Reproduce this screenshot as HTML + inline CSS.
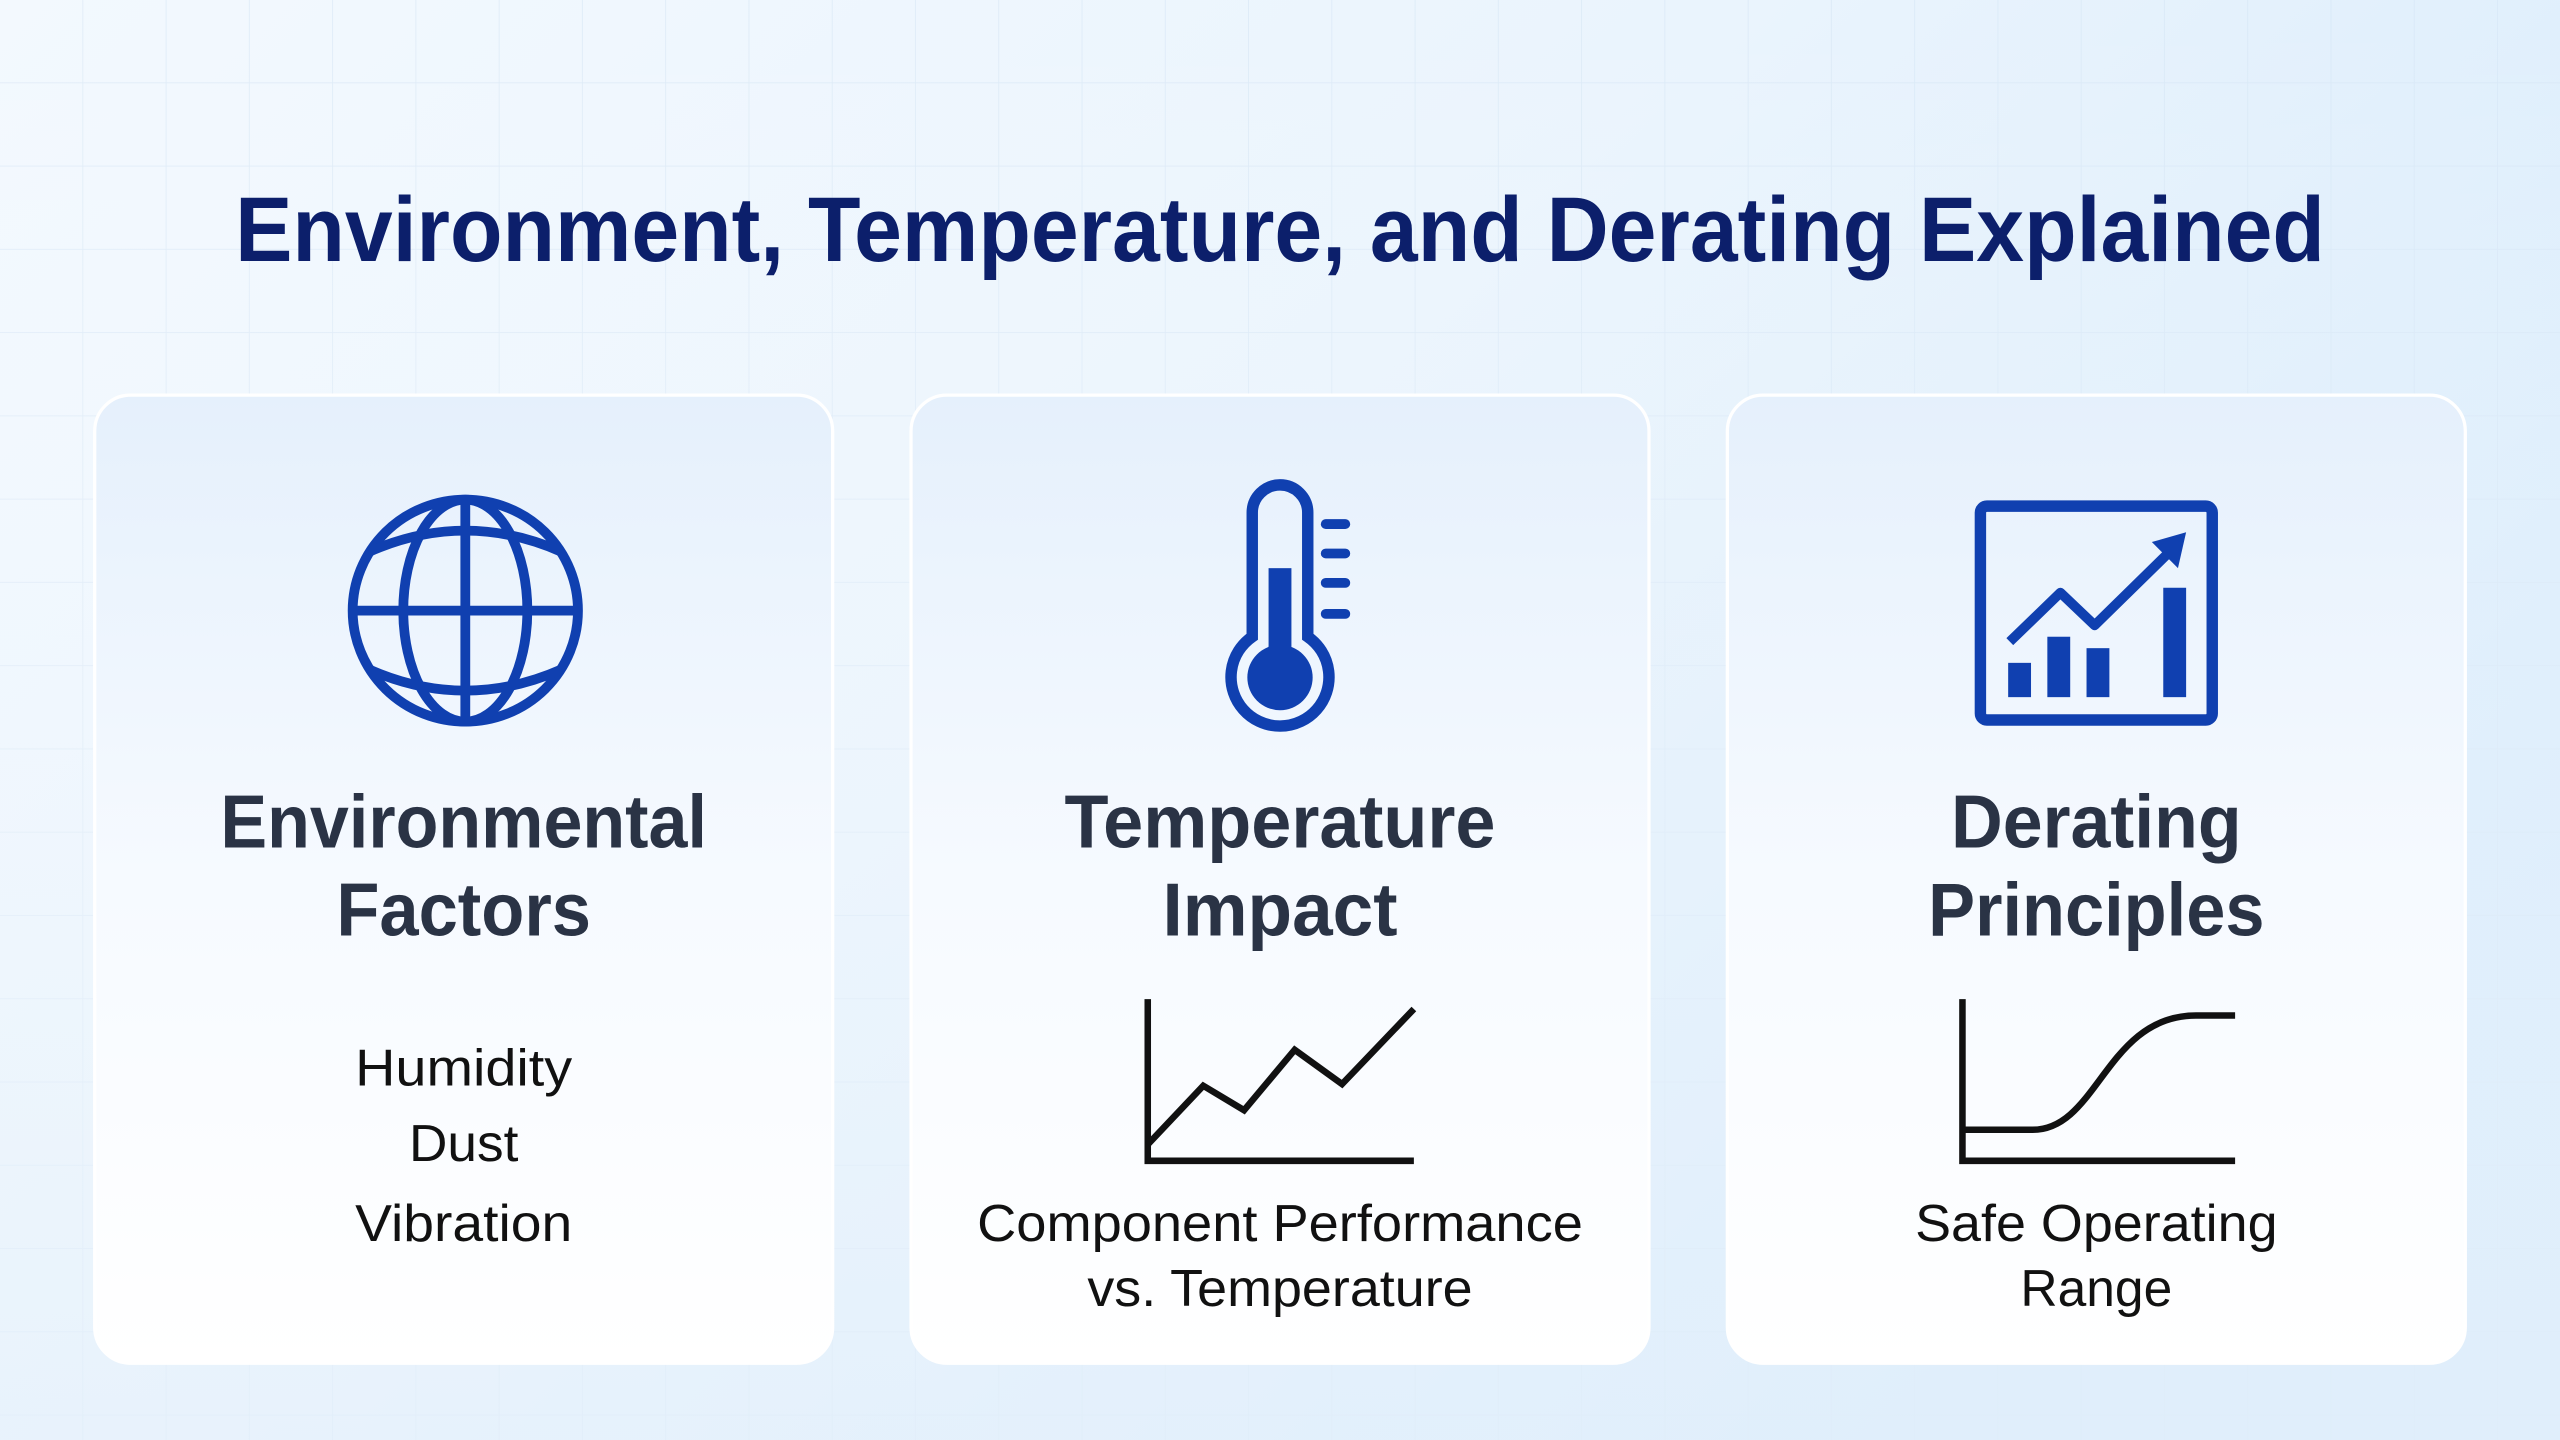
<!DOCTYPE html>
<html><head><meta charset="utf-8"><style>
html,body{margin:0;padding:0;width:2560px;height:1440px;overflow:hidden}
svg{display:block}
</style></head><body>
<svg width="2560" height="1440" viewBox="0 0 1568 882" xmlns="http://www.w3.org/2000/svg" font-family="Liberation Sans, sans-serif">
<defs>
<linearGradient id="bg" x1="0" y1="0" x2="1" y2="0.6">
<stop offset="0" stop-color="#f3f9fe"/><stop offset="0.5" stop-color="#eaf4fd"/><stop offset="1" stop-color="#d6eafb"/>
</linearGradient>
<linearGradient id="bgv" x1="0" y1="0" x2="0" y2="1">
<stop offset="0" stop-color="#ffffff" stop-opacity="0"/><stop offset="1" stop-color="#e6f1fb" stop-opacity="0.6"/>
</linearGradient>
<linearGradient id="card" x1="0" y1="0" x2="0" y2="1">
<stop offset="0" stop-color="#e5f0fc"/><stop offset="0.5" stop-color="#f6faff"/><stop offset="1" stop-color="#ffffff"/>
</linearGradient>
<pattern id="grid" width="51" height="51" patternUnits="userSpaceOnUse">
<path d="M51 0V51M0 51H51" stroke="#d2e3f3" stroke-width="1" fill="none" opacity="0.6"/>
</pattern>
</defs>
<rect width="1568" height="882" fill="url(#bg)"/>
<rect width="1568" height="882" fill="url(#grid)"/>
<rect width="1568" height="882" fill="url(#bgv)"/>
<text x="784" y="160" text-anchor="middle" font-size="56" font-weight="bold" fill="#0c1f6b" textLength="1280" lengthAdjust="spacingAndGlyphs">Environment, Temperature, and Derating Explained</text>

<g stroke="#ffffff" stroke-width="2">
<rect x="58" y="242" width="452" height="593" rx="22" fill="url(#card)"/>
<rect x="558" y="242" width="452" height="593" rx="22" fill="url(#card)"/>
<rect x="1058" y="242" width="452" height="593" rx="22" fill="url(#card)"/>
</g>

<!-- globe -->
<g fill="none" stroke="#1040b0" stroke-width="6">
<ellipse cx="285" cy="374" rx="69" ry="68"/>
<ellipse cx="285" cy="374" rx="38" ry="68"/>
<line x1="285" y1="306" x2="285" y2="442"/>
<line x1="216" y1="374" x2="354" y2="374"/>
<path d="M226 338 Q285 312 344 338"/>
<path d="M226 410 Q285 436 344 410"/>
</g>

<!-- thermometer -->
<g fill="none" stroke="#1040b0" stroke-width="7">
<path d="M767 390 V314 A17 17 0 0 1 801 314 V390 A30 30 0 1 1 767 390 Z"/>
</g>
<rect x="777" y="348" width="14" height="60" fill="#1040b0"/>
<circle cx="784" cy="415" r="20" fill="#1040b0"/>
<g stroke="#1040b0" stroke-width="6" stroke-linecap="round">
<line x1="812" y1="321" x2="824" y2="321"/><line x1="812" y1="339" x2="824" y2="339"/>
<line x1="812" y1="357" x2="824" y2="357"/><line x1="812" y1="376" x2="824" y2="376"/>
</g>

<!-- chart icon -->
<rect x="1213" y="310" width="142" height="131" rx="4" fill="none" stroke="#1040b0" stroke-width="7"/>
<g fill="#1040b0">
<rect x="1230" y="406" width="14" height="21"/><rect x="1254" y="390" width="14" height="37"/>
<rect x="1278" y="397" width="14" height="30"/><rect x="1325" y="360" width="14" height="67"/>
</g>
<path d="M1231 393 L1262 363 L1283 383 L1334 333" fill="none" stroke="#1040b0" stroke-width="6" stroke-linejoin="round"/>
<path d="M1339 326 L1318 332 L1334 348 Z" fill="#1040b0"/>

<g font-weight="bold" fill="#2a3345" font-size="46" text-anchor="middle">
<text x="284" y="519" textLength="298" lengthAdjust="spacingAndGlyphs">Environmental</text>
<text x="284" y="573" textLength="156" lengthAdjust="spacingAndGlyphs">Factors</text>
<text x="784" y="519" textLength="264" lengthAdjust="spacingAndGlyphs">Temperature</text>
<text x="784" y="573" textLength="144" lengthAdjust="spacingAndGlyphs">Impact</text>
<text x="1284" y="519" textLength="178" lengthAdjust="spacingAndGlyphs">Derating</text>
<text x="1284" y="573" textLength="206" lengthAdjust="spacingAndGlyphs">Principles</text>
</g>

<g fill="#111111" font-size="32" text-anchor="middle">
<text x="284" y="665" textLength="133" lengthAdjust="spacingAndGlyphs">Humidity</text>
<text x="284" y="711" textLength="67" lengthAdjust="spacingAndGlyphs">Dust</text>
<text x="284" y="760" textLength="133" lengthAdjust="spacingAndGlyphs">Vibration</text>
<text x="784" y="760" textLength="371" lengthAdjust="spacingAndGlyphs">Component Performance</text>
<text x="784" y="800" textLength="236" lengthAdjust="spacingAndGlyphs">vs. Temperature</text>
<text x="1284" y="760" textLength="222" lengthAdjust="spacingAndGlyphs">Safe Operating</text>
<text x="1284" y="800" textLength="93" lengthAdjust="spacingAndGlyphs">Range</text>
</g>

<g fill="none" stroke="#111111" stroke-width="4" stroke-linejoin="miter">
<path d="M703 612 V711 H866"/>
<path d="M703 701 L737 665 L762 680 L793 643 L822 664 L866 618"/>
<path d="M1202 612 V711 H1369"/>
<path d="M1202 692 H1245 C1285 692 1290 622 1345 622 H1369"/>
</g>
</svg>
</body></html>
